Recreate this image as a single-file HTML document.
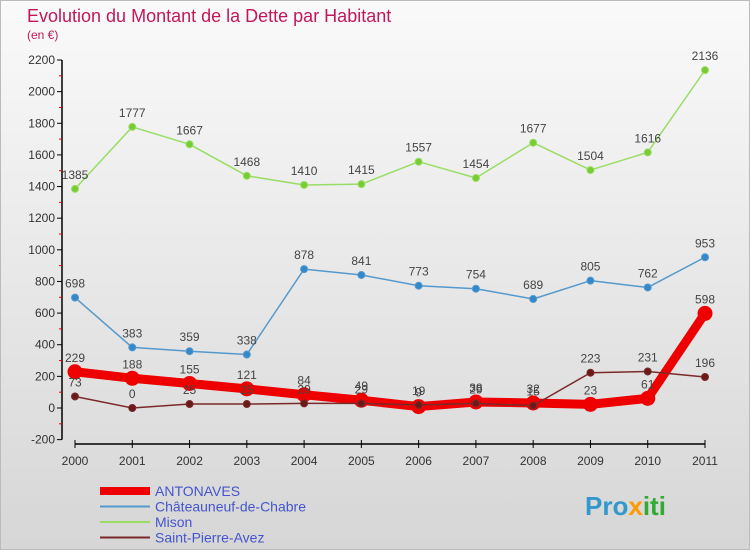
<!DOCTYPE html>
<html><head><meta charset="utf-8"><style>
body{margin:0;width:750px;height:550px;overflow:hidden;font-family:"Liberation Sans",sans-serif}
svg text{font-family:"Liberation Sans",sans-serif}
</style></head><body>
<svg width="750" height="550">
<defs><linearGradient id="bg" x1="0" y1="0" x2="0" y2="1"><stop offset="0" stop-color="#fafafa"/><stop offset="1" stop-color="#d6d6d6"/></linearGradient></defs>
<rect width="750" height="550" fill="url(#bg)"/>
<rect x="0.5" y="0.5" width="749" height="549" fill="none" stroke="#bbb"/>
<text x="27" y="22" font-size="18" fill="#c2185b">Evolution du Montant de la Dette par Habitant</text>
<text x="27" y="39" font-size="12" fill="#c2185b">(en €)</text>
<g id="axes"></g><g id="series"></g><g id="legend"></g>
<text x="585" y="515" font-size="26" font-weight="bold" fill="#3399cc">Pro<tspan fill="#ff9900">x</tspan><tspan fill="#33aa33">iti</tspan></text>
</svg>
<script>
const years=[2000,2001,2002,2003,2004,2005,2006,2007,2008,2009,2010,2011];
const antonaves=[229,188,155,121,84,49,9,38,32,23,61,598];
const chateauneuf=[698,383,359,338,878,841,773,754,689,805,762,953];
const mison=[1385,1777,1667,1468,1410,1415,1557,1454,1677,1504,1616,2136];
const stPierre=[73,0,25,25,29,29,19,29,15,223,231,196];
const yTicks=[-200,0,200,400,600,800,1000,1200,1400,1600,1800,2000,2200];
const NS="http://www.w3.org/2000/svg";
const X=i=>75+i*(630/11);
const Y=v=>408-v*(348/2200);
function mk(tag,attrs,parent,txt){const e=document.createElementNS(NS,tag);for(const k in attrs)e.setAttribute(k,attrs[k]);if(txt!==undefined)e.textContent=txt;parent.appendChild(e);return e;}
const ax=document.getElementById('axes');
const yl=mk('line',{x1:62,x2:62,y1:Y(2200),y2:Y(-200),stroke:'#000','stroke-width':1.5},ax);


yTicks.forEach((t,i)=>{
 const tk=mk('line',{x1:57,x2:62,y1:Y(t),y2:Y(t),stroke:'#000'},ax);
 
 
 const tx=mk('text',{x:55,y:Y(t)+4,'text-anchor':'end','font-size':12,fill:'#333'},ax,String(t));
 
 
 if(i<yTicks.length-1){const m=mk('line',{x1:59,x2:62,y1:Y(t+100),y2:Y(t+100),stroke:'#e00'},ax);
 
 }
});
const xl=mk('line',{x1:X(0),x2:X(11),y1:444,y2:444,stroke:'#000','stroke-width':1.5},ax);


years.forEach((y,i)=>{
 const tk=mk('line',{x1:X(i),x2:X(i),y1:440,y2:448,stroke:'#000'},ax);
 
 
 const tx=mk('text',{x:X(i),y:465,'text-anchor':'middle','font-size':12,fill:'#333'},ax,String(y));
 
 
});
const sg=document.getElementById('series');
function series(vals,color,w,r,name,dot){
 const g=mk('g',{},sg);
 
 
 const pl=mk('polyline',{points:vals.map((v,i)=>X(i)+','+Y(v)).join(' '),fill:'none',stroke:color,'stroke-width':w,'stroke-linejoin':'round'},g);
 
 
 vals.forEach((v,i)=>{
  const c=mk('circle',{cx:X(i),cy:Y(v),r:r,fill:dot,stroke:color,'stroke-width':1},g);
  
  
  const t=mk('text',{x:X(i),y:Y(v)-10,'text-anchor':'middle','font-size':12,fill:'#444'},g,String(v));
  
  
 });
}
series(mison,'#99dd66',1.5,3.5,'mison','#77cc33');
series(chateauneuf,'#5599cc',1.5,3.5,'chateauneuf','#3388cc');
series(antonaves,'#ee0000',9,7,'antonaves','#ee0000');
series(stPierre,'#7a2a2a',1.5,3.5,'saint-pierre-avez','#6b1a1a');
const lg=document.getElementById('legend');
const leg=[['ANTONAVES','#ee0000',8],['Châteauneuf-de-Chabre','#5599cc',2],['Mison','#99dd66',2],['Saint-Pierre-Avez','#7a2a2a',2]];
leg.forEach((l,i)=>{
 const y=491+i*15.5;
 const ln=mk('line',{x1:100,x2:150,y1:y,y2:y,stroke:l[1],'stroke-width':l[2]},lg);
 
 
 const t=mk('text',{x:155,y:y+5,'font-size':14,fill:'#4455cc'},lg,l[0]);
 
 
});
</script>
</body></html>
